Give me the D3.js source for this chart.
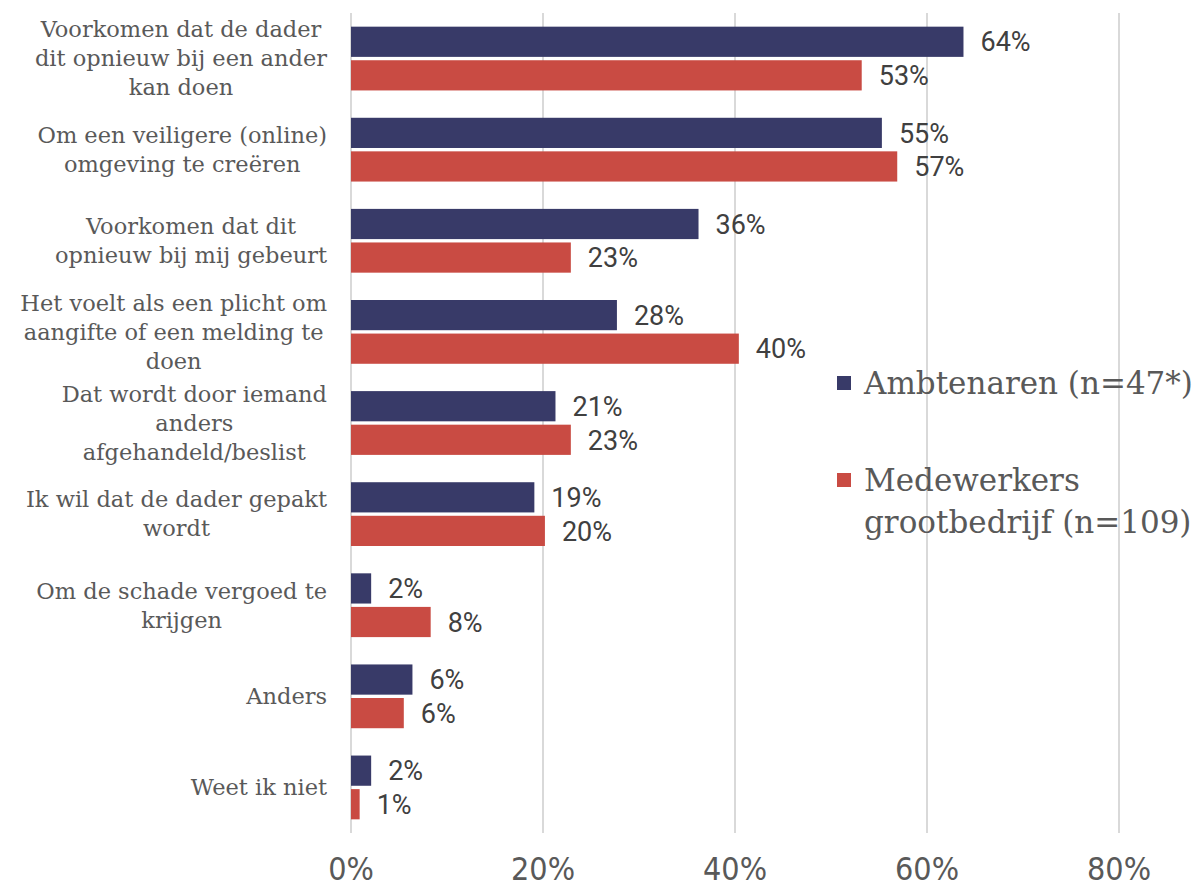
<!DOCTYPE html>
<html>
<head>
<meta charset="utf-8">
<script src="https://cdn.jsdelivr.net/npm/d3@7"></script>
<style>
  body { margin: 0; background: #fff; }
</style>
</head>
<body>
<div id="svgContainer"></div>
<script>
// categories, one entry per line of the label
var categories = [
  ["Voorkomen dat de dader", "dit opnieuw bij een ander", "kan doen"],
  ["Om een veiligere (online)", "omgeving te creëren"],
  ["Voorkomen dat dit", "opnieuw bij mij gebeurt"],
  ["Het voelt als een plicht om", "aangifte of een melding te", "doen"],
  ["Dat wordt door iemand", "anders", "afgehandeld/beslist"],
  ["Ik wil dat de dader gepakt", "wordt"],
  ["Om de schade vergoed te", "krijgen"],
  ["Anders"],
  ["Weet ik niet"]
];
var seriesNames = ["Ambtenaren (n=47*)", "Medewerkers grootbedrijf (n=109)"];
var ambtenaren = [63.8, 55.3, 36.2, 27.7, 21.3, 19.1, 2.1, 6.4, 2.1];
var medewerkers = [53.2, 56.9, 22.9, 40.4, 22.9, 20.2, 8.3, 5.5, 0.9];
var xTicks = [0, 20, 40, 60, 80];

var svgWidth = 1196, svgHeight = 890;
var colors = ["#383a68", "#c94b43"];
var margin = {top: 13, left: 351, bottom: 57};

var svg = d3.select("#svgContainer").append("svg")
  .attr("width", svgWidth)
  .attr("height", svgHeight);

var x = d3.scaleLinear().domain([0, 80]).range([margin.left, 1119]);
var y = d3.scaleBand().domain(d3.range(categories.length))
  .range([margin.top, svgHeight - margin.bottom])
  .paddingInner(0.3).paddingOuter(0.15);
var ySub = d3.scaleBand().domain([0, 1]).range([0, y.bandwidth()]).paddingInner(0.1);

// grid lines
svg.append("g").selectAll("line")
  .data(xTicks)
  .enter().append("line")
  .attr("x1", d => x(d)).attr("x2", d => x(d))
  .attr("y1", margin.top).attr("y2", svgHeight - margin.bottom)
  .attr("stroke", "#d9d9d9")
  .attr("stroke-width", 2);

// x axis labels
svg.append("g").selectAll("text")
  .data(xTicks)
  .enter().append("text")
  .attr("x", d => x(d))
  .attr("y", 880)
  .attr("text-anchor", "middle")
  .attr("font-family", "'Liberation Sans Narrow', 'DejaVu Sans Condensed', sans-serif")
  .attr("font-size", 32)
  .attr("fill", "#595959")
  .text(d => d + "%");

var data = categories.map(function(c, i){
  return {i: i, vals: [ambtenaren[i], medewerkers[i]]};
});

var group = svg.append("g").selectAll("g")
  .data(data)
  .enter().append("g")
  .attr("transform", d => "translate(0," + y(d.i) + ")");

group.selectAll("rect")
  .data(d => d.vals)
  .enter().append("rect")
  .attr("x", x(0))
  .attr("y", (d, j) => ySub(j))
  .attr("width", d => x(d) - x(0))
  .attr("height", ySub.bandwidth())
  .attr("fill", (d, j) => colors[j]);

group.selectAll("text.val")
  .data(d => d.vals)
  .enter().append("text")
  .attr("class", "val")
  .attr("x", d => x(d) + 17)
  .attr("y", (d, j) => ySub(j) + ySub.bandwidth() / 2)
  .attr("dy", "0.36em")
  .attr("font-family", "Roboto, sans-serif")
  .attr("font-size", 27)
  .attr("fill", "#404040")
  .text(d => Math.round(d) + "%");

// category labels: block right aligned, lines centred inside the block
var lineH = 29;
var labels = svg.append("g").selectAll("g")
  .data(data)
  .enter().append("g");

labels.each(function(d){
  var g = d3.select(this);
  var lines = categories[d.i];
  var cy = y(d.i) + y.bandwidth() / 2;
  var texts = g.selectAll("text").data(lines).enter().append("text")
    .attr("y", (l, k) => cy + (k - (lines.length - 1) / 2) * lineH)
    .attr("dy", "0.35em")
    .attr("text-anchor", "middle")
    .attr("font-family", "'DejaVu Serif', serif")
    .attr("font-size", 22.5)
    .attr("fill", "#595959")
    .text(l => l);
  var w = 0;
  texts.each(function(){ w = Math.max(w, this.getComputedTextLength()); });
  texts.attr("x", 327 - w / 2);
});

// legend
var legendData = [
  {c: colors[0], lines: ["Ambtenaren (n=47*)"], y: 383},
  {c: colors[1], lines: ["Medewerkers", "grootbedrijf (n=109)"], y: 480}
];
var legend = svg.append("g").selectAll("g")
  .data(legendData)
  .enter().append("g");
legend.append("rect")
  .attr("x", 837).attr("y", d => d.y - 7)
  .attr("width", 14).attr("height", 14)
  .attr("fill", d => d.c);
legend.each(function(d){
  d3.select(this).selectAll("text").data(d.lines).enter().append("text")
    .attr("x", 864)
    .attr("y", (l, k) => d.y + k * 42)
    .attr("dy", "0.35em")
    .attr("font-family", "'DejaVu Serif', serif")
    .attr("font-size", 31)
    .attr("fill", "#595959")
    .text(l => l);
});
</script>
</body>
</html>
